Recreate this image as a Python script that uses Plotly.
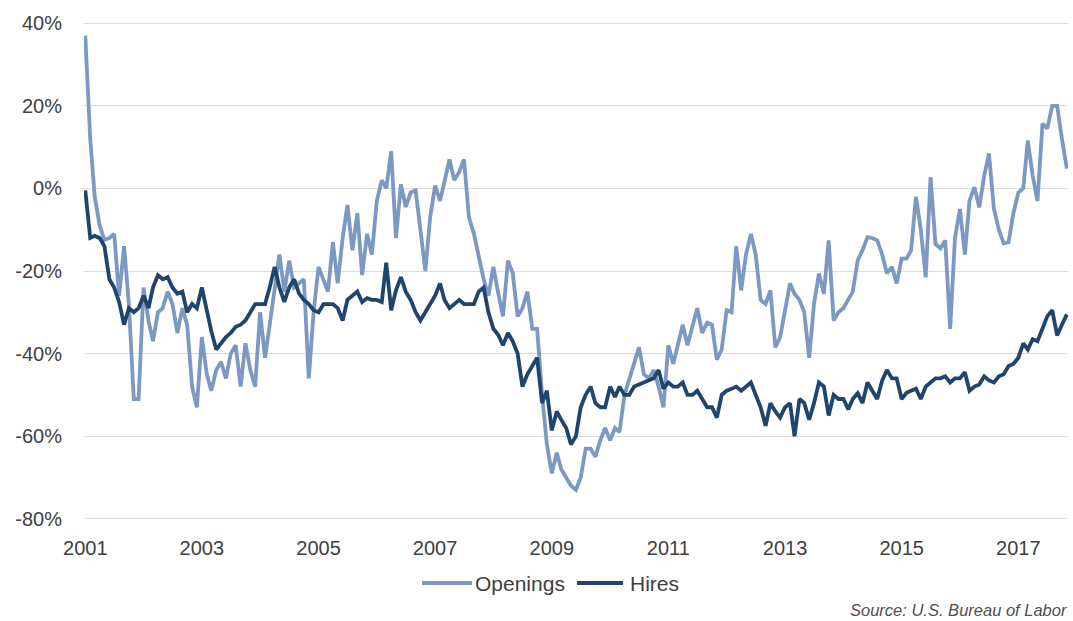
import pandas as pd
import plotly.graph_objects as go

# Monthly series, Jan 2001 - Nov 2017 (year-over-year change, %)
months = pd.date_range("2001-01-01", "2017-11-01", freq="MS")

openings = [
    37, 12, -2, -9, -12.5, -12, -11, -26, -14, -28, -51, -51,
    -24, -32, -37, -30, -29, -25, -28, -35, -29, -33, -48, -53,
    -36, -45, -49, -44, -42, -46, -40, -38, -48, -37.5, -44, -48,
    -30, -41, -33, -25, -16, -25, -17.5, -24, -23, -22, -46, -30,
    -19, -22, -25, -13, -23, -12, -4, -15, -6, -21, -11, -16,
    -3, 2, 0, 9, -12, 1, -4.5, -1, -0.5, -10, -20, -7,
    0.7, -3, 2, 7, 2, 4, 7, -7, -11, -17, -22, -26,
    -19, -25.5, -31, -17.5, -20.5, -31, -29, -25, -34, -34, -50, -62,
    -69, -64, -68, -70, -72, -73, -70, -63, -63, -65, -61, -58,
    -61, -58, -59, -50, -46, -42, -38.5, -45, -46, -44, -48, -53,
    -38, -42.5, -38, -33, -38, -33, -29, -35, -32.5, -33, -41.5, -39,
    -29.5, -30, -14, -24.7, -16, -11, -16, -27, -28, -24.7, -38.5, -36,
    -30, -23, -25.5, -27, -30, -41, -28, -20.6, -25.5, -12.6, -32, -30,
    -29, -27, -25, -17.4, -15, -11.8, -12, -12.6, -16, -20.6, -19, -23,
    -17, -17, -15, -2, -10, -21.5, 2.7, -13.5, -14.5, -12.6, -34, -12,
    -5, -16, -3, 0.3, -4.6, 3, 8.5, -5, -10, -13.3, -13, -6,
    -1, 0, 11.6, 3, -3, 15.7, 14.5, 20, 20, 12, 4.8,
]

hires = [
    -0.5, -12, -11.5, -12, -14, -22, -24, -27.5, -33, -29, -30, -29,
    -26, -29, -24, -21, -22, -21.5, -24, -25.5, -25, -30, -28, -29,
    -24, -30, -34.5, -39, -37.5, -36, -35, -33.5, -33, -32, -30, -28,
    -28, -28, -24, -19, -24, -27.5, -24, -22, -25.5, -27, -28, -29.5,
    -30, -28, -28, -28, -29, -32, -27, -26, -25, -27.5, -26.6, -27,
    -27, -27.5, -18, -29.5, -24.7, -21.5, -25, -27, -30, -32, -30, -28,
    -26, -23, -27, -29, -28, -27, -28, -28, -28, -25, -24, -30,
    -34, -35.5, -38, -35, -37, -40, -48, -45, -43, -41, -52, -49,
    -58.6, -54, -56, -58, -62, -60, -53, -50, -48, -52, -53, -53,
    -48, -50.5, -48, -50, -50, -48, -47.5, -47, -46.5, -46, -44, -48.5,
    -47, -48, -48, -47, -50, -50, -49, -51, -53, -53, -55.5, -50,
    -49, -48.5, -48, -49, -48, -47, -50, -53, -57.5, -52, -54, -55.5,
    -53, -52, -60, -51, -52, -56, -52, -47, -48, -55, -50, -51,
    -51, -53.5, -51, -49.6, -52, -47, -49, -51, -46.5, -44, -46, -46,
    -51, -49.5, -49, -48.5, -51, -48, -47, -46, -46, -45.5, -47, -46,
    -46, -44.5, -49, -48, -47.5, -45.5, -46.5, -47, -45.5, -45, -43, -42.5,
    -41, -37.5, -39, -36.5, -37, -34, -31, -29.5, -35.6, -33, -30.5,
]

tick_years = [2001, 2003, 2005, 2007, 2009, 2011, 2013, 2015, 2017]
y_ticks = [-80, -60, -40, -20, 0, 20, 40]

series_names = ["Openings", "Hires"]
series_colors = ["#7b99c2", "#1f446e"]

FONT = "Liberation Sans, Arial, sans-serif"
TEXT = "#404040"

W, H = 1073, 621
L, R, T, B = 84, 5, 22, 101
plot_w = W - L - R
plot_h = H - T - B


def px(x):
    return (x - L) / plot_w


def py(y):
    return (H - B - y) / plot_h


fig = go.Figure()
for name, vals, col in zip(series_names, [openings, hires], series_colors):
    fig.add_trace(go.Scatter(
        x=months, y=vals, mode="lines", name=name,
        line=dict(color=col, width=3.8),
        showlegend=False,
    ))

fig.update_layout(
    width=W, height=H,
    margin=dict(l=L, r=R, t=T, b=B),
    paper_bgcolor="white", plot_bgcolor="white",
    font=dict(family=FONT, color=TEXT),
    xaxis=dict(
        range=["2000-12-24", "2017-11-08"],
        tickvals=[pd.Timestamp(f"{y}-01-01") for y in tick_years],
        ticktext=[str(y) for y in tick_years],
        showgrid=False, showline=False, zeroline=False,
        ticks="", ticklabelstandoff=14,
        tickfont=dict(size=20, color=TEXT),
    ),
    yaxis=dict(
        range=[-80.3, 40.3],
        tickvals=y_ticks,
        ticktext=[f"{v}%" for v in y_ticks],
        showgrid=True, gridcolor="#dcdcdc", gridwidth=1,
        zeroline=False, showline=False,
        ticks="", ticklabelstandoff=21,
        tickfont=dict(size=20, color=TEXT),
    ),
)

# Legend drawn beneath the axis
legend_y = 583
legend_items = [(422, 472, 473), (577, 623, 628)]
for (x0, x1, tx), name, col in zip(legend_items, series_names, series_colors):
    fig.add_shape(type="line", xref="paper", yref="paper",
                  x0=px(x0), x1=px(x1), y0=py(legend_y), y1=py(legend_y),
                  line=dict(color=col, width=3.8))
    fig.add_annotation(xref="paper", yref="paper", x=px(tx), y=py(legend_y),
                       text=name, showarrow=False, xanchor="left", yanchor="middle",
                       font=dict(size=21, color=TEXT, family=FONT))

fig.add_annotation(xref="paper", yref="paper", x=px(1070), y=py(610),
                   text="<i>Source: U.S. Bureau of Labor</i>", showarrow=False,
                   xanchor="right", yanchor="middle",
                   font=dict(size=16.5, color="#505050", family=FONT))

fig.write_html("out.html")
